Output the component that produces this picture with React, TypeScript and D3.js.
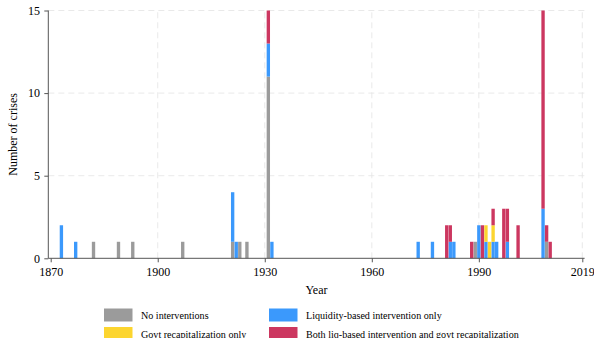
import React, { Component } from 'react';
import * as d3 from 'd3';

// crises per year, split by the kind of policy response
const years = [1873, 1877, 1882, 1889, 1893, 1907, 1921, 1922, 1923, 1925, 1931, 1932,
	1973, 1977, 1981, 1982, 1983, 1988, 1989, 1990, 1991, 1992, 1993, 1994, 1995,
	1997, 1998, 2001, 2008, 2009, 2010];
const noIntervention = [0, 0, 1, 1, 1, 1, 1, 0, 1, 1, 11, 0,
	0, 0, 0, 0, 0, 0, 1, 0, 0, 0, 0, 0, 0,
	0, 0, 0, 0, 1, 0];
const liquidityOnly = [2, 1, 0, 0, 0, 0, 3, 1, 0, 0, 2, 1,
	1, 1, 0, 1, 1, 0, 0, 2, 0, 1, 0, 1, 1,
	0, 1, 0, 3, 0, 0];
const recapOnly = [0, 0, 0, 0, 0, 0, 0, 0, 0, 0, 0, 0,
	0, 0, 0, 0, 0, 0, 0, 0, 0, 1, 1, 1, 0,
	0, 0, 0, 0, 0, 0];
const bothInterventions = [0, 0, 0, 0, 0, 0, 0, 0, 0, 0, 2, 0,
	0, 0, 2, 1, 0, 1, 0, 0, 2, 0, 0, 1, 0,
	3, 2, 2, 12, 1, 1];

const xTicks = [1870, 1900, 1930, 1960, 1990, 2019];
const yTicks = [0, 5, 10, 15];

const seriesKeys = ['none', 'liq', 'recap', 'both'];
const seriesLabels = ['No interventions', 'Liquidity-based intervention only',
	'Govt recapitalization only', 'Both liq-based intervention and govt recapitalization'];
const seriesColors = ['#9b9b9b', '#3b99fc', '#fcd52f', '#cc3760'];

const FONT = '"Liberation Serif", "Times New Roman", serif';

class App extends Component {
	svgRef = React.createRef<SVGSVGElement>();

	componentDidMount() {
		this.drawChart();
	}

	drawChart() {
		const svg = d3.select(this.svgRef.current);
		svg.selectAll('*').remove();

		const left = 48.3, right = 584.6, top = 10.5, bottom = 258.3;

		const xScale = d3.scaleLinear().domain([1870, 2019]).range([50.7, 582.3]);
		const yScale = d3.scaleLinear().domain([0, 15]).range([bottom, top]);

		// grid
		const grid = svg.append('g').attr('stroke', '#e3e3e3').attr('stroke-width', 0.8)
			.attr('stroke-dasharray', '6,4');
		grid.selectAll('.hg').data(yTicks.filter(d => d > 0)).enter().append('line')
			.attr('x1', left).attr('x2', right)
			.attr('y1', d => yScale(d)).attr('y2', d => yScale(d));
		grid.selectAll('.vg').data(xTicks.filter(d => d > 1870)).enter().append('line')
			.attr('x1', d => xScale(d)).attr('x2', d => xScale(d))
			.attr('y1', bottom).attr('y2', top);

		// stacked bars
		const rows = years.map((yr, i) => ({
			year: yr,
			none: noIntervention[i],
			liq: liquidityOnly[i],
			recap: recapOnly[i],
			both: bothInterventions[i],
		}));
		const stacked = d3.stack<any>().keys(seriesKeys)(rows);
		const half = 0.47;

		svg.append('g').selectAll('g').data(stacked).enter().append('g')
			.attr('fill', (d, i) => seriesColors[i])
			.selectAll('rect').data(d => d.filter(s => s[1] > s[0])).enter().append('rect')
			.attr('x', d => xScale(d.data.year - half))
			.attr('width', d => xScale(d.data.year + half) - xScale(d.data.year - half))
			.attr('y', d => yScale(d[1]))
			.attr('height', d => yScale(d[0]) - yScale(d[1]));

		// axes
		const xAxis = d3.axisBottom(xScale).tickValues(xTicks).tickFormat(d3.format('d')).tickSize(4);
		const gx = svg.append('g').attr('transform', 'translate(0,' + bottom + ')').call(xAxis);
		gx.select('.domain').remove();
		gx.append('line').attr('x1', left).attr('x2', right).attr('stroke', '#555').attr('stroke-width', 1);

		const yAxis = d3.axisLeft(yScale).tickValues(yTicks).tickSize(4);
		const gy = svg.append('g').attr('transform', 'translate(' + left + ',0)').call(yAxis);
		gy.select('.domain').remove();
		gy.append('line').attr('y1', bottom).attr('y2', top).attr('stroke', '#555').attr('stroke-width', 1);

		svg.selectAll('.tick line').attr('stroke', '#555');
		svg.selectAll('.tick text').attr('fill', '#000').attr('font-size', 12).attr('font-family', FONT);
		gx.selectAll('.tick text').attr('dy', '0.9em');
		gy.selectAll('.tick text').attr('dx', '-0.1em');

		// titles
		svg.append('text').text('Year')
			.attr('x', (left + right) / 2).attr('y', 294)
			.attr('text-anchor', 'middle').attr('font-size', 12).attr('font-family', FONT);
		svg.append('text').text('Number of crises')
			.attr('transform', 'translate(17,' + (top + bottom) / 2 + ') rotate(-90)')
			.attr('text-anchor', 'middle').attr('font-size', 12).attr('font-family', FONT);

		// legend
		const legendPos = [[104, 308.5], [269, 308.5], [104, 327], [269, 327]];
		const legend = svg.append('g').selectAll('g').data(seriesLabels).enter().append('g')
			.attr('transform', (d, i) => 'translate(' + legendPos[i][0] + ',' + legendPos[i][1] + ')');
		legend.append('rect')
			.attr('width', 28.5).attr('height', 13)
			.attr('fill', (d, i) => seriesColors[i]);
		legend.append('text').text(d => d)
			.attr('x', 37).attr('y', 10.5)
			.attr('font-size', 10.1).attr('font-family', FONT);
	}

	render() {
		return (
			<svg ref={this.svgRef} width={594} height={338}
				style={{ position: 'absolute', left: 0, top: 0, background: '#fff' }} />
		);
	}
}

export default App;
